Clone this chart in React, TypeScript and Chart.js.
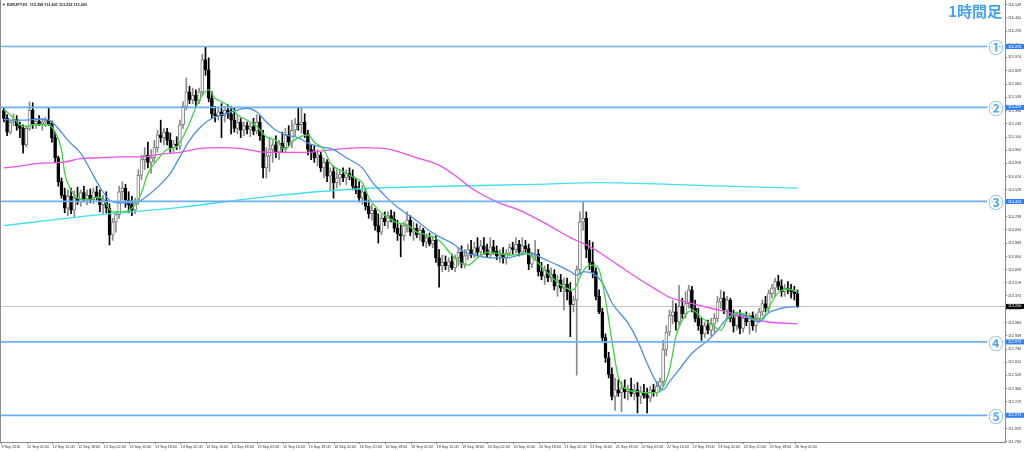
import React, { useEffect, useRef } from 'react';
import { Chart, registerables } from 'chart.js';

Chart.register(...registerables);

const symbolTitle = 'EURJPY,H1  113.398 113.401 113.232 113.260';
const timeframeLabel = '1時間足';

const opens = [
  115.40,115.31,115.16,115.27,115.30,115.23,115.20,115.02,115.20,115.40,
  115.25,115.28,115.25,115.27,115.29,115.25,115.10,114.88,114.62,114.47,
  114.33,114.46,114.31,114.44,114.40,114.50,114.43,114.47,114.42,114.51,
  114.45,114.37,114.42,114.33,114.04,114.18,114.26,114.51,114.55,114.42,
  114.37,114.31,114.40,114.69,114.86,114.91,114.83,114.88,114.99,115.13,
  115.10,115.16,115.07,114.99,115.03,115.01,115.24,115.44,115.60,115.51,
  115.56,115.50,115.60,115.95,115.84,115.53,115.36,115.34,115.38,115.34,
  115.40,115.36,115.29,115.20,115.27,115.18,115.23,115.19,115.22,115.17,
  115.27,115.12,114.77,114.90,114.97,115.02,114.94,115.04,114.99,115.13,
  115.05,115.18,115.25,115.24,115.27,115.14,114.97,114.94,114.88,114.91,
  114.77,114.83,114.68,114.73,114.61,114.66,114.70,114.66,114.71,114.68,
  114.57,114.53,114.44,114.51,114.35,114.27,114.31,114.14,114.07,114.22,
  114.18,114.25,114.21,114.11,114.05,114.03,114.14,114.20,114.07,114.11,
  114.04,114.09,113.96,114.01,113.94,113.98,113.79,113.70,113.74,113.70,
  113.75,113.68,113.79,113.85,113.72,113.81,113.88,113.83,113.90,113.85,
  113.92,113.88,113.82,113.91,113.86,113.81,113.83,113.79,113.84,113.90,
  113.88,113.94,113.85,113.92,113.89,113.72,113.81,113.83,113.64,113.59,
  113.66,113.57,113.61,113.48,113.55,113.46,113.50,113.42,113.28,113.33,
  113.66,114.18,114.22,113.88,113.74,113.64,113.37,113.20,112.92,112.70,
  112.52,112.28,112.35,112.32,112.37,112.33,112.36,112.31,112.35,112.28,
  112.33,112.29,112.26,112.35,112.32,112.39,112.44,112.79,112.98,113.16,
  113.20,113.09,113.26,113.18,113.29,113.44,113.24,113.13,113.05,112.96,
  113.05,113.00,113.07,113.13,113.31,113.35,113.22,113.33,113.13,113.05,
  113.16,113.02,113.13,113.09,113.16,113.05,113.13,113.20,113.29,113.24,
  113.40,113.46,113.53,113.48,113.42,113.46,113.44,113.42,113.40,
];

const highs = [
  115.43,115.35,115.29,115.36,115.34,115.27,115.24,115.23,115.49,115.48,
  115.31,115.34,115.31,115.32,115.43,115.28,115.16,114.90,114.66,114.55,
  114.53,114.55,114.52,114.56,114.53,114.57,114.53,114.54,114.55,114.57,
  114.53,114.47,114.51,114.38,114.22,114.29,114.57,114.62,114.59,114.51,
  114.46,114.44,114.75,114.91,114.99,115.05,114.97,115.07,115.18,115.29,
  115.20,115.20,115.15,115.07,115.11,115.29,115.49,115.75,115.66,115.64,
  115.62,115.64,116.01,116.09,115.97,115.60,115.44,115.42,115.47,115.44,
  115.46,115.44,115.42,115.35,115.31,115.27,115.27,115.26,115.31,115.35,
  115.34,115.18,114.99,115.10,115.07,115.12,115.07,115.16,115.20,115.23,
  115.29,115.31,115.43,115.43,115.36,115.18,115.02,115.01,114.97,114.94,
  114.88,114.86,114.77,114.79,114.75,114.75,114.77,114.75,114.77,114.75,
  114.66,114.62,114.58,114.55,114.42,114.37,114.33,114.27,114.26,114.29,
  114.29,114.31,114.29,114.20,114.15,114.18,114.29,114.25,114.18,114.16,
  114.14,114.11,114.05,114.06,114.03,114.03,113.88,113.82,113.81,113.79,
  113.83,113.82,113.90,113.92,113.88,113.94,113.98,113.96,114.01,113.98,
  114.01,113.94,114.01,113.98,113.92,113.88,113.90,113.88,113.94,113.96,
  114.01,113.98,114.01,113.98,113.94,113.85,113.98,113.88,113.74,113.70,
  113.72,113.68,113.66,113.60,113.61,113.57,113.57,113.52,113.37,113.70,
  114.29,114.40,114.29,113.98,113.96,113.68,113.44,113.24,112.96,112.76,
  112.59,112.48,112.46,112.44,112.46,112.40,112.48,112.41,112.43,112.39,
  112.41,112.37,112.39,112.41,112.44,112.48,112.89,113.05,113.22,113.33,
  113.29,113.49,113.35,113.42,113.49,113.48,113.33,113.24,113.13,113.09,
  113.11,113.13,113.18,113.37,113.44,113.42,113.37,113.35,113.22,113.20,
  113.22,113.18,113.20,113.18,113.20,113.18,113.24,113.33,113.37,113.44,
  113.50,113.57,113.60,113.55,113.50,113.53,113.50,113.48,113.44,
];

const lows = [
  115.27,115.12,115.14,115.23,115.18,115.10,114.93,115.00,115.18,115.20,
  115.20,115.23,115.18,115.22,115.23,115.05,114.83,114.57,114.44,114.28,
  114.25,114.27,114.23,114.37,114.35,114.40,114.37,114.39,114.38,114.42,
  114.29,114.27,114.28,113.93,113.98,114.07,114.22,114.42,114.34,114.28,
  114.25,114.27,114.37,114.64,114.75,114.77,114.71,114.83,114.94,115.05,
  115.02,115.02,114.94,114.94,114.97,114.97,115.20,115.40,115.47,115.47,
  115.44,115.47,115.56,115.78,115.49,115.31,115.27,115.29,115.10,115.27,
  115.31,115.14,115.16,115.14,115.10,115.12,115.14,115.11,115.13,115.14,
  115.07,114.66,114.66,114.73,114.83,114.88,114.86,114.94,114.94,115.01,
  114.99,115.12,115.18,115.15,115.10,114.91,114.86,114.83,114.79,114.73,
  114.66,114.62,114.53,114.44,114.55,114.58,114.62,114.59,114.64,114.53,
  114.49,114.40,114.37,114.31,114.22,114.20,114.09,113.95,114.04,114.14,
  114.11,114.18,114.07,113.98,113.80,113.98,114.07,114.03,113.98,114.01,
  113.98,113.92,113.90,113.92,113.90,113.74,113.47,113.64,113.66,113.64,
  113.66,113.64,113.70,113.68,113.68,113.77,113.79,113.79,113.81,113.81,
  113.83,113.79,113.79,113.83,113.77,113.74,113.73,113.72,113.81,113.83,
  113.84,113.81,113.82,113.85,113.66,113.68,113.77,113.59,113.55,113.50,
  113.53,113.53,113.44,113.37,113.42,113.22,113.33,112.93,113.20,112.51,
  113.61,114.09,113.79,113.66,113.57,113.33,113.18,112.87,112.65,112.48,
  112.24,112.13,112.28,112.11,112.26,112.24,112.28,112.24,112.10,112.20,
  112.26,112.10,112.22,112.28,112.28,112.33,112.39,112.72,112.94,113.07,
  113.00,113.05,113.13,113.13,113.24,113.20,113.09,113.00,112.89,112.92,
  112.96,112.94,112.98,113.09,113.24,113.18,113.13,113.09,112.98,113.00,
  112.96,112.98,113.05,112.96,113.00,112.98,113.09,113.16,113.20,113.20,
  113.35,113.37,113.44,113.37,113.37,113.40,113.35,113.33,113.25,
];

const closes = [
  115.31,115.16,115.27,115.30,115.23,115.20,115.02,115.20,115.40,115.25,
  115.28,115.25,115.27,115.29,115.25,115.10,114.88,114.62,114.47,114.33,
  114.46,114.31,114.44,114.40,114.50,114.43,114.47,114.42,114.51,114.45,
  114.37,114.42,114.33,114.04,114.18,114.26,114.51,114.55,114.42,114.37,
  114.31,114.40,114.69,114.86,114.91,114.83,114.88,114.99,115.13,115.10,
  115.16,115.07,114.99,115.03,115.01,115.24,115.44,115.60,115.51,115.56,
  115.50,115.60,115.95,115.84,115.53,115.36,115.34,115.38,115.34,115.40,
  115.36,115.29,115.20,115.27,115.18,115.23,115.19,115.22,115.17,115.27,
  115.12,114.77,114.90,114.97,115.02,114.94,115.04,114.99,115.13,115.05,
  115.18,115.25,115.24,115.27,115.14,114.97,114.94,114.88,114.91,114.77,
  114.83,114.68,114.73,114.61,114.66,114.70,114.66,114.71,114.68,114.57,
  114.53,114.44,114.51,114.35,114.27,114.31,114.14,114.07,114.22,114.18,
  114.25,114.21,114.11,114.05,114.03,114.14,114.20,114.07,114.11,114.04,
  114.09,113.96,114.01,113.94,113.98,113.79,113.70,113.74,113.70,113.75,
  113.68,113.79,113.85,113.72,113.81,113.88,113.83,113.90,113.85,113.92,
  113.88,113.82,113.91,113.86,113.81,113.83,113.79,113.84,113.90,113.88,
  113.94,113.85,113.92,113.89,113.72,113.81,113.83,113.64,113.59,113.66,
  113.57,113.61,113.48,113.55,113.46,113.50,113.42,113.28,113.33,113.66,
  114.18,114.22,113.88,113.74,113.64,113.37,113.20,112.92,112.70,112.52,
  112.28,112.35,112.32,112.37,112.33,112.36,112.31,112.35,112.28,112.33,
  112.29,112.26,112.35,112.32,112.39,112.44,112.79,112.98,113.16,113.20,
  113.09,113.26,113.18,113.29,113.44,113.24,113.13,113.05,112.96,113.05,
  113.00,113.07,113.13,113.31,113.35,113.22,113.33,113.13,113.05,113.16,
  113.02,113.13,113.09,113.16,113.05,113.13,113.20,113.29,113.24,113.40,
  113.46,113.53,113.48,113.42,113.46,113.44,113.42,113.40,113.26,
];

// Moving averages (bar index -> value)
const greenBars = [0,1,3,5,7,9,12,14,16,18,19,21,23,26,29,31,33,34,37,40,43,45,48,51,54,56,58,60,62,64,66,68,71,73,76,79,82,85,88,90,92,95,97,100,102,106,109,112,114,117,120,123,126,129,132,136,140,143,145,148,151,154,159,163,167,170,175,178,180,182,184,186,188,190,192,195,198,201,204,206,208,210,212,215,218,222,224,226,229,232,235,237,239,242,245,248];
const greenValues = [115.40,115.38,115.31,115.24,115.22,115.24,115.24,115.24,115.16,114.97,114.71,114.53,114.44,114.42,114.45,114.43,114.32,114.29,114.29,114.33,114.50,114.71,114.86,114.97,115.00,115.11,115.26,115.43,115.56,115.62,115.53,115.49,115.43,115.35,115.29,115.22,115.11,115.07,114.97,115.05,115.10,115.13,115.05,114.97,114.82,114.73,114.67,114.61,114.45,114.31,114.23,114.17,114.15,114.07,114.04,113.98,113.82,113.73,113.71,113.79,113.85,113.84,113.82,113.84,113.73,113.62,113.47,113.44,113.58,113.69,113.71,113.66,113.33,112.89,112.49,112.35,112.33,112.32,112.32,112.38,112.57,112.93,113.11,113.22,113.14,113.04,113.00,113.11,113.19,113.17,113.11,113.13,113.25,113.41,113.45,113.42];

const blueBars = [0,3,7,11,14,17,20,24,27,30,33,36,39,42,45,48,52,55,58,61,64,68,71,74,76,79,82,85,88,92,95,99,103,107,112,115,119,123,128,132,136,140,144,148,152,157,161,165,168,173,177,179,181,184,187,190,195,198,201,204,206,208,211,215,220,223,226,229,233,236,239,243,248];
const blueValues = [115.30,115.29,115.29,115.30,115.29,115.20,115.07,114.93,114.75,114.56,114.42,114.39,114.39,114.40,114.47,114.56,114.71,114.89,115.07,115.20,115.29,115.35,115.38,115.41,115.42,115.38,115.27,115.18,115.13,115.10,115.04,115.00,114.97,114.88,114.77,114.62,114.47,114.34,114.22,114.11,114.02,113.95,113.85,113.81,113.79,113.79,113.82,113.84,113.79,113.71,113.64,113.60,113.64,113.62,113.52,113.30,113.08,112.89,112.64,112.43,112.35,112.44,112.57,112.75,112.89,113.00,113.13,113.19,113.13,113.09,113.19,113.24,113.26];

const magentaBars = [0,5,11,18,24,30,36,43,49,55,61,68,74,82,94,103,113,121,128,136,142,146,154,161,164,171,177,182,186,192,198,204,208,214,221,227,233,239,248];
const magentaValues = [114.77,114.79,114.82,114.83,114.87,114.88,114.89,114.89,114.92,114.94,114.98,114.99,114.98,114.94,114.94,114.97,114.99,114.97,114.89,114.80,114.66,114.55,114.40,114.31,114.26,114.13,114.01,113.93,113.85,113.71,113.57,113.44,113.36,113.30,113.24,113.19,113.13,113.09,113.07];

const cyanBars = [0,27,55,83,110,138,166,186,217,248];
const cyanValues = [114.14,114.25,114.34,114.46,114.54,114.57,114.59,114.61,114.58,114.55];

const xTickBars = [0,8,16,24,32,40,48,56,64,72,80,88,96,104,112,120,128,136,144,152,160,168,176,184,192,200,208,216,224,232,240,248];
const xTickLabels = [
  '9 Sep 2016','12 Sep 02:00','12 Sep 10:00','12 Sep 18:00','13 Sep 02:00','13 Sep 10:00','13 Sep 18:00',
  '14 Sep 02:00','14 Sep 10:00','14 Sep 18:00','15 Sep 02:00','15 Sep 10:00','15 Sep 18:00',
  '16 Sep 02:00','16 Sep 10:00','16 Sep 18:00','19 Sep 02:00','19 Sep 10:00','19 Sep 18:00',
  '20 Sep 02:00','20 Sep 10:00','20 Sep 18:00','21 Sep 02:00','21 Sep 10:00','21 Sep 18:00',
  '22 Sep 02:00','22 Sep 10:00','22 Sep 18:00','23 Sep 02:00','23 Sep 10:00','23 Sep 18:00','26 Sep 02:00',
];

const yTickValues = [
  116.549,116.404,116.259,116.114,115.974,115.829,115.684,115.539,115.394,115.249,115.104,
  114.964,114.819,114.674,114.529,114.384,114.239,114.094,113.949,113.804,113.659,113.519,
  113.374,113.229,113.084,112.939,112.794,112.654,112.509,112.364,112.219,112.074,111.929,111.784,
];

const levelPrices = [116.093, 115.429, 114.404, 112.873, 112.073];
const levelMarks = ['①', '②', '③', '④', '⑤'];
const lastPrice = 113.26;

const FONT = '"Liberation Sans", Arial, sans-serif';

export default function App() {
  const ref = useRef<HTMLCanvasElement | null>(null);

  useEffect(() => {
    document.body.style.margin = '0';
    const canvas = ref.current;
    if (!canvas) return;

    const bull = closes.map((c, i) => c >= opens[i]);
    const wickData = lows.map((l, i) => ({ x: i, y: [l, highs[i]] }));
    const bodyData = opens.map((o, i) => ({ x: i, y: [o, closes[i]] }));
    const pts = (bars: number[], vals: number[]) => bars.map((b, k) => ({ x: b, y: vals[k] }));

    const overlay = {
      id: 'mt4overlay',
      beforeDraw(chart: any) {
        const c = chart.ctx;
        c.save();
        c.fillStyle = '#ffffff';
        c.fillRect(0, 0, chart.width, chart.height);
        c.restore();
      },
      beforeDatasetsDraw(chart: any) {
        const c = chart.ctx;
        const a = chart.chartArea;
        const y = Math.round(chart.scales.y.getPixelForValue(lastPrice)) + 0.5;
        c.save();
        c.strokeStyle = '#c8c8c8';
        c.lineWidth = 1;
        c.beginPath();
        c.moveTo(a.left, y);
        c.lineTo(a.right, y);
        c.stroke();
        c.restore();
      },
      afterDatasetsDraw(chart: any) {
        const c = chart.ctx;
        const a = chart.chartArea;
        const ys = chart.scales.y;
        c.save();
        levelPrices.forEach((p, k) => {
          const y = ys.getPixelForValue(p);
          c.strokeStyle = '#6eaff5';
          c.lineWidth = 1.7;
          c.beginPath();
          c.moveTo(a.left, y);
          c.lineTo(a.right, y);
          c.stroke();
          c.font = `bold 15px "Noto Sans CJK JP", sans-serif`;
          c.textAlign = 'center';
          c.textBaseline = 'middle';
          c.lineWidth = 3.5;
          c.strokeStyle = '#ffffff';
          c.strokeText(levelMarks[k], a.right - 9, y + 1);
          c.fillStyle = '#55a6f2';
          c.fillText(levelMarks[k], a.right - 9, y + 1);
        });
        c.restore();
      },
      afterDraw(chart: any) {
        const c = chart.ctx;
        const a = chart.chartArea;
        const ys = chart.scales.y;
        c.save();
        c.strokeStyle = '#8c8c8c';
        c.lineWidth = 1;
        c.beginPath();
        c.moveTo(a.left + 0.5, a.top);
        c.lineTo(a.left + 0.5, a.bottom);
        c.stroke();
        c.font = `3.8px ${FONT}`;
        c.textAlign = 'left';
        c.textBaseline = 'middle';
        levelPrices.forEach((p) => {
          const y = ys.getPixelForValue(p);
          c.fillStyle = '#2f7ef2';
          c.fillRect(a.right + 1, y - 2.5, 18, 5);
          c.fillStyle = '#ffffff';
          c.fillText(p.toFixed(3), a.right + 3, y);
        });
        const yl = ys.getPixelForValue(lastPrice);
        c.fillStyle = '#000000';
        c.fillRect(a.right + 1, yl - 2.5, 18, 5);
        c.fillStyle = '#ffffff';
        c.fillText(lastPrice.toFixed(3), a.right + 3, yl);
        c.fillStyle = '#222222';
        c.font = `bold 3.8px ${FONT}`;
        c.fillText('▼', 2, 4.5);
        c.fillText(symbolTitle, 7, 4.5);
        c.font = `bold 15px "Noto Sans CJK JP", sans-serif`;
        c.textAlign = 'right';
        c.textBaseline = 'middle';
        c.lineWidth = 3;
        c.strokeStyle = '#ffffff';
        c.strokeText(timeframeLabel, 1002, 11);
        c.fillStyle = '#48a2ef';
        c.fillText(timeframeLabel, 1002, 11);
        c.restore();
      },
    };

    const lineDs = (label: string, bars: number[], vals: number[], color: string) => ({
      type: 'line' as const,
      label,
      data: pts(bars, vals),
      borderColor: color,
      borderWidth: 1.3,
      pointRadius: 0,
      tension: 0.4,
      cubicInterpolationMode: 'monotone' as const,
      order: 0,
    });

    const chart = new Chart(canvas, {
      type: 'bar',
      data: {
        datasets: [
          lineDs('MA short', greenBars, greenValues, '#3fd43f'),
          lineDs('MA mid', blueBars, blueValues, '#4b8fe6'),
          lineDs('MA long', magentaBars, magentaValues, '#ee4fe8'),
          lineDs('MA very long', cyanBars, cyanValues, '#3fe0ec'),
          {
            type: 'bar',
            label: 'body',
            data: bodyData as any,
            backgroundColor: bull.map((b) => (b ? '#ffffff' : '#000000')),
            borderColor: bull.map((b) => (b ? '#7a7a7a' : '#000000')),
            borderWidth: 1,
            borderSkipped: false,
            barThickness: 3,
            minBarLength: 1,
            grouped: false,
            order: 1,
          },
          {
            type: 'bar',
            label: 'wick',
            data: wickData as any,
            backgroundColor: bull.map((b) => (b ? '#8a8a8a' : '#000000')),
            barThickness: 1,
            grouped: false,
            order: 2,
          },
        ] as any,
      },
      options: {
        responsive: false,
        animation: false,
        devicePixelRatio: 1,
        layout: { padding: 0 },
        plugins: {
          legend: { display: false },
          tooltip: { enabled: false },
          title: { display: false },
        },
        scales: {
          x: {
            type: 'linear',
            min: -1.219,
            max: 312.84,
            offset: false,
            afterBuildTicks: (s: any) => {
              s.ticks = xTickBars.map((b) => ({ value: b - 0.78 }));
            },
            afterFit: (s: any) => {
              s.height = 10;
              s.paddingLeft = 0;
              s.paddingRight = 0;
            },
            ticks: {
              autoSkip: false,
              maxRotation: 0,
              minRotation: 0,
              align: 'start',
              padding: 1,
              color: '#333333',
              font: { size: 3.7, family: FONT },
              callback: (_v: any, idx: number) => xTickLabels[idx],
            },
            grid: { drawOnChartArea: false, offset: false, tickLength: 2, color: '#777777' },
            border: { display: true, color: '#8c8c8c', width: 1 },
          },
          y: {
            type: 'linear',
            position: 'right',
            min: 111.782,
            max: 116.6,
            afterBuildTicks: (s: any) => {
              s.ticks = yTickValues.map((v) => ({ value: v }));
            },
            afterFit: (s: any) => {
              s.width = 19;
              s.paddingTop = 0;
              s.paddingBottom = 0;
            },
            ticks: {
              autoSkip: false,
              padding: 1,
              color: '#333333',
              font: { size: 3.7, family: FONT },
              callback: (v: any) => Number(v).toFixed(3),
            },
            grid: { drawOnChartArea: false, tickLength: 2, color: '#777777' },
            border: { display: true, color: '#8c8c8c', width: 1 },
          },
        },
      } as any,
      plugins: [overlay],
    });

    return () => chart.destroy();
  }, []);

  return (
    <canvas
      ref={ref}
      width={1024}
      height={452}
      style={{ display: 'block', width: '1024px', height: '452px' }}
    />
  );
}
